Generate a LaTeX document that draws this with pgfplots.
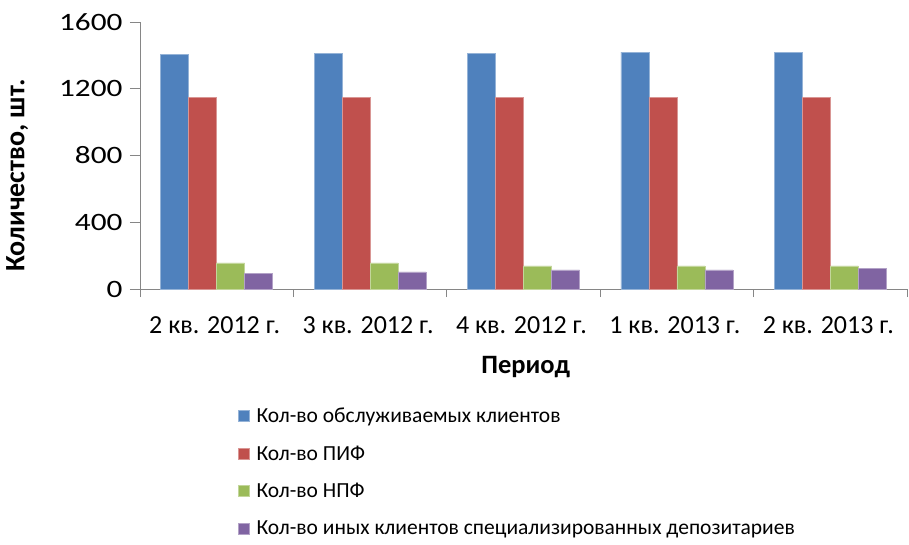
\documentclass[border=0pt]{standalone}
\usepackage{pgfplots}
\pgfplotsset{compat=1.18}
\usepackage{fontspec}
\setmainfont{Carlito}
\newfontfamily\tickfont{Carlito}[FakeStretch=1.25]
\definecolor{cBlue}{HTML}{4F81BD}
\definecolor{cRed}{HTML}{C0504D}
\definecolor{cGreen}{HTML}{9BBB59}
\definecolor{cPurple}{HTML}{8064A2}
\definecolor{axgray}{HTML}{868686}
\begin{document}
\begin{tikzpicture}[x=1pt,y=1pt]
\useasboundingbox (-140pt,-255pt) rectangle (769pt,289pt);
\begin{axis}[
  at={(0pt,0pt)}, anchor=south west,
  scale only axis, width=767pt, height=267pt,
  ybar=0pt, bar width=28pt,
  xmin=-0.5, xmax=4.5, ymin=0, ymax=1600,
  axis x line*=bottom, axis y line*=left,
  axis line style={axgray, line width=0.8pt},
  xtick={0,1,2,3,4},
  xticklabels={2 кв. 2012 г., 3 кв. 2012 г., 4 кв. 2012 г., 1 кв. 2013 г., 2 кв. 2013 г.},
  major x tick style={draw=none},
  minor xtick={-0.5,0.5,1.5,2.5,3.5,4.5},
  minor x tick style={axgray, line width=0.8pt},
  minor tick length=8pt,
  ytick={0,400,800,1200,1600},
  yticklabels={0,400,800,1200,1600},
  y tick style={axgray, line width=0.8pt},
  major tick length=10pt,
  tick align=outside,
  yticklabel style={font=\tickfont\fontsize{25}{28}\selectfont, anchor=east, xshift=-4pt},
  xticklabel style={font=\fontsize{26}{28}\selectfont, anchor=center, yshift=-26pt, xshift=-2pt},
  ylabel={\textbf{Количество, шт.}},
  ylabel style={font=\fontsize{28}{30}\selectfont, at={(axis description cs:-0.160,0.425)}, anchor=center},
  xlabel={\textbf{Период}},
  xlabel style={font=\fontsize{26.5}{30}\selectfont, at={(axis description cs:0.503,-0.292)}, anchor=center},
  legend style={at={(0.124,-0.430)}, anchor=north west, draw=none, fill=none,
    font=\fontsize{21.5}{24}\selectfont, legend cell align=left,
    row sep=17.6pt},
  legend image code/.code={\fill[#1] (0pt,-5.5pt) rectangle (11pt,5.5pt); \path[draw=none,fill=none] (0pt,0pt) -- (16pt,0pt);},
]
\addplot[fill=cBlue, draw=cBlue!60!white, line width=0.5pt] coordinates {(0,1404) (1,1412) (2,1412) (3,1420) (4,1420)};
\addplot[fill=cRed, draw=cRed!60!white, line width=0.5pt] coordinates {(0,1148) (1,1148) (2,1148) (3,1148) (4,1148)};
\addplot[fill=cGreen, draw=cGreen!60!white, line width=0.5pt] coordinates {(0,156) (1,156) (2,138) (3,138) (4,138)};
\addplot[fill=cPurple, draw=cPurple!60!white, line width=0.5pt] coordinates {(0,92) (1,102) (2,114) (3,114) (4,124)};
\legend{Кол-во обслуживаемых клиентов, Кол-во ПИФ, Кол-во НПФ, Кол-во иных клиентов специализированных депозитариев}
\end{axis}
\end{tikzpicture}
\end{document}
